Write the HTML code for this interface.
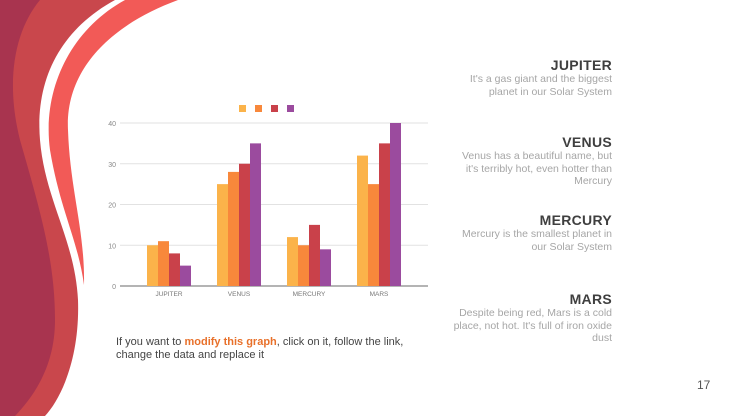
<!DOCTYPE html>
<html><head><meta charset="utf-8"><style>
*{margin:0;padding:0;box-sizing:border-box}
body{width:740px;height:416px;overflow:hidden;background:#fff;position:relative;font-family:"Liberation Sans",sans-serif}
.info{position:absolute;right:128px;text-align:right;width:160px}
.info h3{font-size:14px;font-weight:bold;color:#3f3f3f;line-height:16px;letter-spacing:0.3px}
.info p{font-size:10.5px;color:#a6a6a6;line-height:12.5px}
.note{position:absolute;left:116px;top:336px;font-size:11px;color:#444;line-height:13px;width:290px}
.note b{color:#e8702a}
.pg{position:absolute;left:697px;top:378px;font-size:12px;color:#555}
</style></head><body>
<svg width="740" height="416" style="position:absolute;left:0;top:0">
<path d="M0,0 L115,0 C60,30 35,80 40,140 C45,200 75,240 78,300 C80,360 60,400 45,416 L0,416 Z" fill="#c9474c"/>
<path d="M0,0 L40,0 C15,30 5,80 20,140 C40,210 55,260 55,320 C55,370 30,400 15,416 L0,416 Z" fill="#a8344f"/>
<path d="M125,0 L178,0 C110,25 65,70 68,130 C70,190 85,230 84,285 C78,240 60,210 50,150 C42,90 70,30 125,0 Z" fill="#f25a57"/>
</svg>
<svg id="chart" width="740" height="416" style="position:absolute;left:0;top:0"></svg>
<div class="info" style="top:57px"><h3>JUPITER</h3><p>It's a gas giant and the biggest planet in our Solar System</p></div>
<div class="info" style="top:134px"><h3>VENUS</h3><p>Venus has a beautiful name, but it's terribly hot, even hotter than Mercury</p></div>
<div class="info" style="top:212px"><h3>MERCURY</h3><p>Mercury is the smallest planet in our Solar System</p></div>
<div class="info" style="top:291px"><h3>MARS</h3><p>Despite being red, Mars is a cold place, not hot. It's full of iron oxide dust</p></div>
<div class="note">If you want to <b>modify this graph</b>, click on it, follow the link, change the data and replace it</div>
<div class="pg">17</div>
<script>
const categories=["JUPITER","VENUS","MERCURY","MARS"];
const series1=[10,25,12,32];
const series2=[11,28,10,25];
const series3=[8,30,15,35];
const series4=[5,35,9,40];
const yTicks=[0,10,20,30,40];
const colors=["#fbb34a","#f8883b","#c9414a","#9b4b9e"];
const svg=document.getElementById('chart');
const NS="http://www.w3.org/2000/svg";
const x0=120,x1=428,y0=286,yTop=123,yMax=40;
const ys=v=>y0-(v/yMax)*(y0-yTop);
const groupW=(x1-x0-28)/categories.length;
const xc=i=>x0+14+groupW*(i+0.5);
const bw=11;
function mk(t,a){const e=document.createElementNS(NS,t);for(const k in a)e.setAttribute(k,a[k]);svg.appendChild(e);return e;}
yTicks.forEach(t=>{
 const l=mk('line',{x1:x0,x2:x1,y1:ys(t),y2:ys(t),stroke:t===0?'#888':'#e2e2e2','stroke-width':t===0?1.2:1});
 
 
 const tx=mk('text',{x:x0-4,y:ys(t)+3,'text-anchor':'end','font-size':7,fill:'#888','font-family':'Liberation Sans'});
 tx.textContent=t;
 
 
});
const all=[series1,series2,series3,series4];
categories.forEach((c,i)=>{
 all.forEach((s,j)=>{
  const r=mk('rect',{x:xc(i)-2*bw+j*bw,y:ys(s[i]),width:bw,height:y0-ys(s[i]),fill:colors[j]});
  
  
 });
 const tx=mk('text',{x:xc(i),y:296,'text-anchor':'middle','font-size':6.5,fill:'#777','font-family':'Liberation Sans'});
 tx.textContent=c;
 
 
});
colors.forEach((col,j)=>{
 const r=mk('rect',{x:239+j*16,y:105,width:7,height:7,fill:col});
 
 
});
</script>
</body></html>
